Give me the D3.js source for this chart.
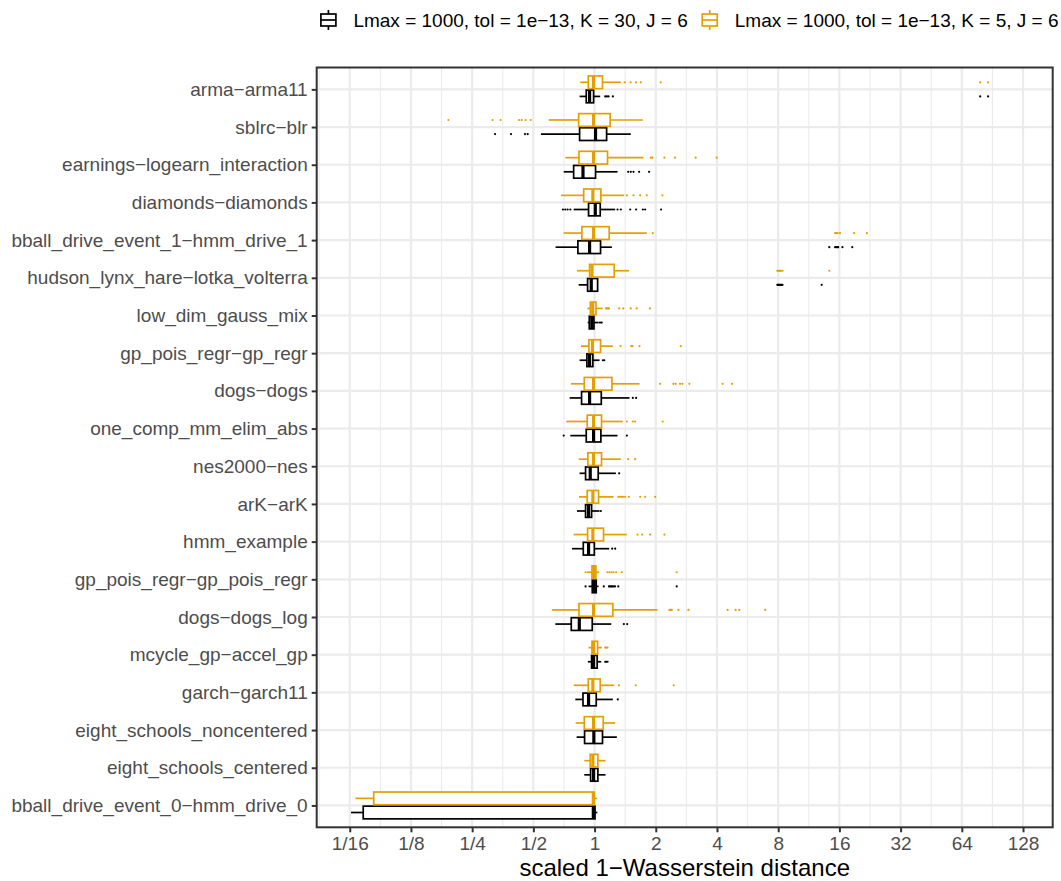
<!DOCTYPE html>
<html>
<head>
<meta charset="utf-8">
<script src="https://cdn.jsdelivr.net/npm/d3@7"></script>
<style>
  html, body { margin: 0; padding: 0; background: #fff; }
  svg { display: block; }
  text { font-family: "Liberation Sans", Arial, Helvetica, sans-serif; }
</style>
</head>
<body>
<svg id="chart" width="1061" height="881"></svg>
<script>
// Benchmark posteriors, listed top to bottom
const categories = [
  "arma\u2212arma11",
  "sblrc\u2212blr",
  "earnings\u2212logearn_interaction",
  "diamonds\u2212diamonds",
  "bball_drive_event_1\u2212hmm_drive_1",
  "hudson_lynx_hare\u2212lotka_volterra",
  "low_dim_gauss_mix",
  "gp_pois_regr\u2212gp_regr",
  "dogs\u2212dogs",
  "one_comp_mm_elim_abs",
  "nes2000\u2212nes",
  "arK\u2212arK",
  "hmm_example",
  "gp_pois_regr\u2212gp_pois_regr",
  "dogs\u2212dogs_log",
  "mcycle_gp\u2212accel_gp",
  "garch\u2212garch11",
  "eight_schools_noncentered",
  "eight_schools_centered",
  "bball_drive_event_0\u2212hmm_drive_0"
];

const seriesLabels = [
  "Lmax = 1000, tol = 1e\u221213, K = 30, J = 6",
  "Lmax = 1000, tol = 1e\u221213, K = 5, J = 6"
];
const seriesColors = ["#000000", "#E69F00"];

// Box statistics per posterior: [lower whisker, Q1, median, Q3, upper whisker]
const statsK30 = [
  [0.844, 0.910, 0.945, 0.989, 1.066],
  [0.545, 0.844, 1.011, 1.146, 1.507],
  [0.705, 0.789, 0.877, 1.011, 1.297],
  [0.789, 0.934, 1.008, 1.066, 1.263],
  [0.643, 0.828, 0.945, 1.070, 1.217],
  [0.835, 0.924, 0.963, 1.035, 1.035],
  [0.925, 0.942, 0.969, 0.993, 1.047],
  [0.844, 0.917, 0.945, 0.981, 1.058],
  [0.754, 0.863, 0.945, 1.079, 1.486],
  [0.760, 0.910, 0.989, 1.074, 1.297],
  [0.844, 0.903, 0.952, 1.042, 1.273],
  [0.819, 0.903, 0.934, 0.967, 1.058],
  [0.774, 0.880, 0.934, 0.997, 1.180],
  [0.934, 0.974, 0.997, 1.019, 1.046],
  [0.641, 0.768, 0.841, 0.974, 1.208],
  [0.927, 0.967, 0.989, 1.030, 1.079],
  [0.804, 0.877, 0.934, 1.019, 1.230],
  [0.816, 0.893, 0.992, 1.094, 1.287],
  [0.890, 0.956, 0.989, 1.038, 1.132],
  [0.0634, 0.0728, 0.986, 1.005, 1.032]
];

const statsK5 = [
  [0.850, 0.931, 0.989, 1.094, 1.346],
  [0.595, 0.835, 0.989, 1.193, 1.727],
  [0.718, 0.838, 0.989, 1.158, 1.740],
  [0.684, 0.884, 0.981, 1.074, 1.399],
  [0.705, 0.866, 0.989, 1.180, 1.806],
  [0.819, 0.945, 0.971, 1.249, 1.479],
  [0.921, 0.953, 0.979, 1.016, 1.096],
  [0.857, 0.938, 0.977, 1.070, 1.230],
  [0.765, 0.890, 0.989, 1.217, 1.663],
  [0.726, 0.920, 0.989, 1.082, 1.377],
  [0.835, 0.927, 0.989, 1.082, 1.346],
  [0.838, 0.920, 0.981, 1.046, 1.240],
  [0.789, 0.924, 0.981, 1.107, 1.441],
  [0.917, 0.971, 0.992, 1.015, 1.054],
  [0.617, 0.838, 0.989, 1.230, 2.038],
  [0.934, 0.971, 0.989, 1.035, 1.087],
  [0.789, 0.931, 0.981, 1.066, 1.249],
  [0.807, 0.890, 0.989, 1.103, 1.263],
  [0.890, 0.952, 0.981, 1.038, 1.132],
  [0.0666, 0.0820, 0.986, 0.997, 1.032]
];

// Outlying replicates beyond the whiskers
const outliersK30 = [
  [1.128, 1.150, 1.171, 1.230, 78.8, 86.2],
  [0.324, 0.388, 0.455, 0.469],
  [1.463, 1.507, 1.554, 1.656, 1.854],
  [0.699, 0.718, 0.737, 0.760, 1.297, 1.346, 1.497, 1.601, 1.727, 1.773, 2.124],
  [14.27, 15.24, 15.45, 15.67, 15.78, 16.56, 18.51],
  [7.92, 7.98, 8.05, 8.12, 8.17, 8.25, 8.32, 8.40, 13.09],
  [1.063, 1.084],
  [1.099, 1.116],
  [1.542, 1.601],
  [0.705, 1.441],
  [1.321],
  [1.074],
  [1.221, 1.263],
  [0.903, 1.110, 1.177, 1.190, 1.206, 1.220, 1.240, 1.260, 1.308, 2.535],
  [1.393, 1.447],
  [1.128, 1.140, 1.158],
  [1.301],
  [],
  [],
  []
];

const outliersK5 = [
  [1.409, 1.505, 1.599, 1.688, 2.114, 78.8, 86.2],
  [0.191, 0.315, 0.345, 0.425, 0.438, 0.458, 0.485],
  [1.889, 1.926, 2.205, 2.488, 3.143, 3.986],
  [1.441, 1.554, 1.676, 1.806, 2.157],
  [1.933, 15.24, 15.50, 15.67, 16.11, 18.90, 21.86],
  [7.92, 8.00, 8.08, 8.17, 8.25, 8.40, 14.27],
  [1.138, 1.150, 1.165, 1.177, 1.323, 1.384, 1.505, 1.611, 1.872],
  [1.342, 1.514, 1.537, 1.663, 2.654],
  [2.101, 2.442, 2.507, 2.634, 2.704, 2.926, 4.264, 4.740],
  [1.441, 1.542, 1.583, 2.164],
  [1.463, 1.583],
  [1.311, 1.330, 1.357, 1.380, 1.414, 1.474, 1.676, 1.773, 1.985],
  [1.626, 1.714, 1.876, 2.205],
  [0.903, 1.158, 1.185, 1.212, 1.240, 1.277, 1.362, 2.535],
  [2.334, 2.370, 2.395, 2.585, 2.894, 4.513, 4.938, 5.148, 6.907],
  [1.128, 1.140, 1.158],
  [1.317, 1.595, 2.450],
  [],
  [],
  []
];

const tickValues = [1/16, 1/8, 1/4, 1/2, 1, 2, 4, 8, 16, 32, 64, 128];
const tickLabels = ["1/16", "1/8", "1/4", "1/2", "1", "2", "4", "8", "16", "32", "64", "128"];
const xTitle = "scaled 1\u2212Wasserstein distance";

// ---- layout ----
const panel = { left: 316.7, right: 1052.7, top: 67.5, bottom: 827.3 };
const gridColor = "#EBEBEB";
const inkColor = "#333333";
const tickTextColor = "#4D4D4D";
const tickFont = 19, titleFont = 24, legendFont = 19;

const svg = d3.select("#chart");

const x = d3.scaleLog().base(2)
  .domain([Math.pow(2, -4.54), Math.pow(2, 7.485)])
  .range([panel.left, panel.right]);

const y = d3.scalePoint()
  .domain(categories)
  .range([panel.top, panel.bottom])
  .padding(0.58);

const step = y.step();
const boxH = step * 0.75 / 2 * 0.9;
const dodge = step * 0.75 / 4;
// K = 30 sits below the category line, K = 5 above it
const series = [
  { stats: statsK30, outliers: outliersK30, color: seriesColors[0], offset: dodge },
  { stats: statsK5, outliers: outliersK5, color: seriesColors[1], offset: -dodge }
];

// ---- grid ----
const grid = svg.append("g");
const minorTicks = d3.range(-4.5, 7.6, 1).map(e => Math.pow(2, e))
  .filter(v => x(v) >= panel.left && x(v) <= panel.right);
grid.selectAll("line.minor").data(minorTicks).join("line")
  .attr("x1", d => x(d)).attr("x2", d => x(d))
  .attr("y1", panel.top).attr("y2", panel.bottom)
  .attr("stroke", gridColor).attr("stroke-width", 1.1);
grid.selectAll("line.vmajor").data(tickValues).join("line")
  .attr("x1", d => x(d)).attr("x2", d => x(d))
  .attr("y1", panel.top).attr("y2", panel.bottom)
  .attr("stroke", gridColor).attr("stroke-width", 2.2);
grid.selectAll("line.hmajor").data(categories).join("line")
  .attr("x1", panel.left).attr("x2", panel.right)
  .attr("y1", d => y(d)).attr("y2", d => y(d))
  .attr("stroke", gridColor).attr("stroke-width", 2.2);

// ---- boxplots ----
const plot = svg.append("g");
series.forEach(s => {
  const g = plot.append("g");
  categories.forEach((cat, i) => {
    const [lo, q1, med, q3, hi] = s.stats[i];
    const cy = y(cat) + s.offset;
    const b = g.append("g");
    b.append("line")
      .attr("x1", x(lo)).attr("x2", x(q1)).attr("y1", cy).attr("y2", cy)
      .attr("stroke", s.color).attr("stroke-width", 1.7);
    b.append("line")
      .attr("x1", x(q3)).attr("x2", x(hi)).attr("y1", cy).attr("y2", cy)
      .attr("stroke", s.color).attr("stroke-width", 1.7);
    b.append("rect")
      .attr("x", x(q1)).attr("y", cy - boxH / 2)
      .attr("width", Math.max(0, x(q3) - x(q1))).attr("height", boxH)
      .attr("fill", "#fff").attr("stroke", s.color).attr("stroke-width", 1.7);
    b.append("line")
      .attr("x1", x(med)).attr("x2", x(med))
      .attr("y1", cy - boxH / 2).attr("y2", cy + boxH / 2)
      .attr("stroke", s.color).attr("stroke-width", 3.2);
    b.selectAll("circle").data(s.outliers[i]).join("circle")
      .attr("cx", d => x(d)).attr("cy", cy).attr("r", 1.1)
      .attr("fill", s.color);
  });
});

// ---- panel border ----
svg.append("rect")
  .attr("x", panel.left).attr("y", panel.top)
  .attr("width", panel.right - panel.left).attr("height", panel.bottom - panel.top)
  .attr("fill", "none").attr("stroke", inkColor).attr("stroke-width", 2);

// ---- axes ----
const xAxis = svg.append("g").attr("transform", `translate(0,${panel.bottom})`)
  .call(d3.axisBottom(x).tickValues(tickValues)
    .tickFormat((d, i) => tickLabels[i]).tickSize(5).tickSizeOuter(0).tickPadding(4));
xAxis.select(".domain").remove();
xAxis.selectAll(".tick line").attr("stroke", inkColor).attr("stroke-width", 2);
xAxis.selectAll(".tick text")
  .attr("fill", tickTextColor).attr("font-size", tickFont)
  .attr("font-family", "'Liberation Sans', Arial, sans-serif");

const yAxis = svg.append("g").attr("transform", `translate(${panel.left},0)`)
  .call(d3.axisLeft(y).tickSize(5).tickSizeOuter(0).tickPadding(4));
yAxis.select(".domain").remove();
yAxis.selectAll(".tick line").attr("stroke", inkColor).attr("stroke-width", 2);
yAxis.selectAll(".tick text")
  .attr("fill", tickTextColor).attr("font-size", tickFont)
  .attr("font-family", "'Liberation Sans', Arial, sans-serif");

svg.append("text")
  .attr("x", (panel.left + panel.right) / 2).attr("y", 876)
  .attr("text-anchor", "middle").attr("font-size", titleFont).attr("fill", "#000")
  .text(xTitle);

// ---- legend ----
const legend = svg.append("g");
const keyToText = 25, textToKey = 22, legendY = 20;
let cursor = 0;
seriesLabels.forEach((label, i) => {
  const item = legend.append("g");
  const keyX = cursor;
  const c = seriesColors[i];
  // boxplot key glyph
  item.append("line").attr("x1", keyX).attr("x2", keyX)
    .attr("y1", legendY - 10).attr("y2", legendY + 10)
    .attr("stroke", c).attr("stroke-width", 1.7);
  item.append("rect").attr("x", keyX - 7.5).attr("y", legendY - 6)
    .attr("width", 15).attr("height", 12)
    .attr("fill", "#fff").attr("stroke", c).attr("stroke-width", 1.7);
  item.append("line").attr("x1", keyX - 7.5).attr("x2", keyX + 7.5)
    .attr("y1", legendY).attr("y2", legendY)
    .attr("stroke", c).attr("stroke-width", 1.7);
  const t = item.append("text")
    .attr("x", keyX + keyToText).attr("y", legendY).attr("dy", "0.35em")
    .attr("font-size", legendFont).attr("fill", "#000").text(label);
  const w = t.node().getComputedTextLength();
  cursor = keyX + keyToText + w + textToKey;
});
const legendLeft = -7.5, legendRight = cursor - textToKey;
const legendCenter = (panel.left + panel.right) / 2 + 5;
legend.attr("transform", `translate(${legendCenter - (legendLeft + legendRight) / 2},0)`);
</script>
</body>
</html>
